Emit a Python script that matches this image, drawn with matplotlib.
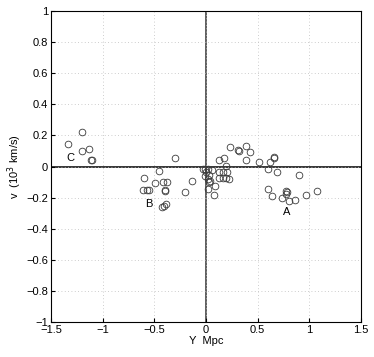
import numpy as np
import matplotlib.pyplot as plt

plt.rcParams['font.family'] = ['Liberation Sans', 'DejaVu Sans']
plt.rcParams['axes.unicode_minus'] = True

# galaxy positions (Mpc) and velocities (10^3 km/s)
y_c = [-1.333, -1.197, -1.197, -1.13, -1.116, -1.104]
v_c = [0.146, 0.221, 0.097, 0.112, 0.045, 0.045]

y_b = [-0.297, -0.455, -0.6, -0.494, -0.42, -0.374, -0.607, -0.568, -0.552,
       -0.397, -0.392, -0.206, -0.136, -0.423, -0.41, -0.39]
v_b = [0.052, -0.028, -0.075, -0.105, -0.101, -0.101, -0.153, -0.153, -0.153,
       -0.153, -0.158, -0.163, -0.09, -0.258, -0.254, -0.243]

y_mid = [-0.032, -0.01, 0.022, 0.061, -0.01, 0.029, 0.016, 0.029, 0.087, 0.022,
         0.08, 0.0, 0.04, 0.126, 0.178, 0.19, 0.229, 0.313, 0.32, 0.384, 0.423,
         0.39, 0.516, 0.62, 0.658, 0.661, 0.597, 0.687, 0.9, 0.13, 0.168, 0.2,
         0.13, 0.16, 0.19, 0.22]
v_mid = [-0.015, -0.015, -0.015, -0.024, -0.058, -0.054, -0.08, -0.101, -0.127,
         -0.144, -0.183, -0.035, -0.09, 0.045, 0.054, 0.002, 0.127, 0.105, 0.1,
         0.129, 0.092, 0.039, 0.032, 0.028, 0.056, 0.06, -0.017, -0.037, -0.054,
         -0.037, -0.037, -0.037, -0.075, -0.075, -0.075, -0.082]

y_a = [0.6, 0.639, 0.733, 0.774, 0.787, 0.774, 0.8, 0.865, 0.968, 1.071]
v_a = [-0.142, -0.189, -0.202, -0.155, -0.163, -0.176, -0.219, -0.215, -0.181, -0.159]

group_names = ['A', 'B', 'C']
label_y = [0.78, -0.549, -1.316]
label_v = [-0.295, -0.243, 0.056]

yy = np.array(y_c + y_b + y_mid + y_a)
vv = np.array(v_c + v_b + v_mid + v_a)

fig = plt.figure(figsize=(3.74, 3.57), dpi=100)
ax = fig.add_axes([0.1364, 0.098, 0.8288, 0.871])

ax.axhline(0, color='black', lw=1.1, zorder=1)
ax.axvline(0, color='#333333', lw=1.1, zorder=1)
ax.plot(yy, vv, 'o', mfc='none', mec='#3a3a3a', ms=4.8, mew=0.6, zorder=3)

for name, x, y in zip(group_names, label_y, label_v):
    ax.text(x, y, name, fontsize=8, ha='center', va='center')

ax.set_xlim(-1.5, 1.5)
ax.set_ylim(-1, 1)
ax.set_xticks(np.arange(-1.5, 1.51, 0.5))
ax.set_yticks(np.arange(-1, 1.01, 0.2))
ax.set_xticklabels(['\u22121.5', '\u22121', '\u22120.5', '0', '0.5', '1', '1.5'])
ax.set_yticklabels(['\u22121', '\u22120.8', '\u22120.6', '\u22120.4', '\u22120.2',
                    '0', '0.2', '0.4', '0.6', '0.8', '1'])
ax.grid(True, linestyle=(0, (1, 3)), color='#bdbdbd', lw=0.6)
ax.tick_params(direction='in', length=3, labelsize=8, pad=2)
for s in ax.spines.values():
    s.set_linewidth(0.8)

ax.set_xlabel('Y  Mpc', fontsize=8, labelpad=1)
ax.set_ylabel('v  (10$^3$ km/s)', fontsize=8, labelpad=2)

fig.savefig('out.png', dpi=100)
